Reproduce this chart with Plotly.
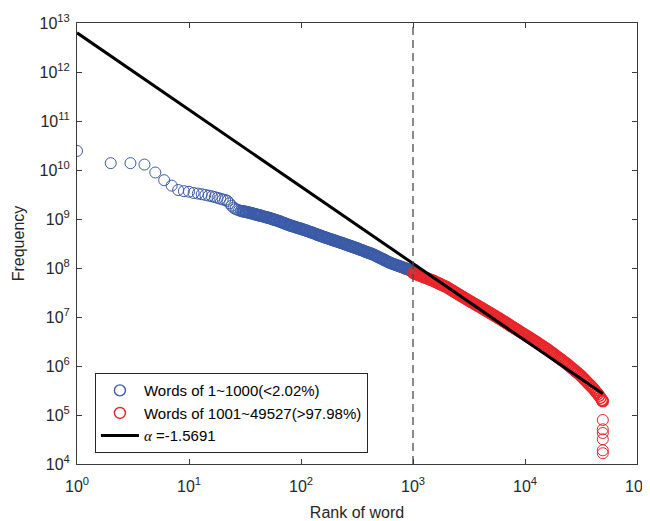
import plotly.graph_objects as go

# ---- data ----
# ranks 1..1000 (blue) and log10 of their frequencies
blue_rank = [1, 2, 3, 4, 5, 6, 7, 8, 9, 10, 11, 12, 13, 14, 15, 16, 17, 18, 19, 20,
             21, 22, 23, 24, 25, 26, 27, 28, 29,
             30, 31, 32, 33, 34, 35, 36, 37, 38, 39, 40, 41, 42, 43, 44, 46, 47, 49, 50,
             52, 53, 55, 56, 58, 59, 61, 63, 65, 66, 68, 70, 72, 74, 77, 79, 81, 83, 86,
             88, 91, 93, 96, 98, 101, 104, 107, 110, 113, 117, 120, 124, 127, 131, 135,
             139, 143, 147, 151, 155, 160, 165, 170, 174, 180, 185, 190, 196, 201, 207,
             213, 219, 226, 232, 239, 246, 253, 261, 268, 276, 284, 292, 301, 309, 319,
             328, 338, 347, 358, 368, 379, 389, 401, 412, 425, 437, 450, 463, 477, 490,
             505, 519, 535, 550, 567, 582, 600, 617, 636, 653, 673, 692, 713, 733, 755,
             776, 799, 822, 847, 871, 897, 922, 950, 977, 1000]
blue_log_freq = [10.389, 10.14, 10.14, 10.111, 9.949, 9.792, 9.681, 9.591, 9.568, 9.556,
                 9.531, 9.519, 9.505, 9.491, 9.477, 9.462, 9.447, 9.431, 9.415, 9.398,
                 9.389, 9.37, 9.32, 9.27, 9.23, 9.205, 9.19, 9.176, 9.167,
                 9.158, 9.152, 9.147, 9.140, 9.133, 9.126, 9.118, 9.111, 9.103, 9.097,
                 9.090, 9.083, 9.077, 9.071, 9.065, 9.053, 9.047, 9.036, 9.030, 9.018,
                 9.013, 9.001, 8.995, 8.984, 8.978, 8.968, 8.958, 8.947, 8.941, 8.930,
                 8.918, 8.908, 8.897, 8.882, 8.872, 8.864, 8.857, 8.846, 8.839, 8.829,
                 8.822, 8.813, 8.806, 8.797, 8.786, 8.777, 8.767, 8.758, 8.746, 8.737,
                 8.726, 8.717, 8.706, 8.695, 8.683, 8.673, 8.663, 8.653, 8.644, 8.632,
                 8.622, 8.612, 8.604, 8.593, 8.584, 8.575, 8.565, 8.556, 8.546, 8.537,
                 8.528, 8.517, 8.508, 8.498, 8.487, 8.478, 8.466, 8.458, 8.447, 8.438,
                 8.428, 8.417, 8.408, 8.397, 8.386, 8.375, 8.365, 8.353, 8.343, 8.332,
                 8.322, 8.311, 8.300, 8.289, 8.279, 8.267, 8.252, 8.238, 8.224, 8.210,
                 8.196, 8.182, 8.168, 8.152, 8.140, 8.125, 8.111, 8.098, 8.088, 8.078,
                 8.068, 8.058, 8.048, 8.038, 8.028, 8.017, 8.007, 7.995, 7.984, 7.973,
                 7.962, 7.950, 7.939, 7.930]

# ranks 1001..49527 (red) and log10 of their frequencies
red_rank = [1001, 1029, 1059, 1090, 1122, 1155, 1189, 1223, 1259, 1296, 1334, 1372, 1413,
            1454, 1496, 1540, 1585, 1631, 1679, 1728, 1778, 1830, 1884, 1939, 1995, 2054,
            2113, 2175, 2239, 2304, 2371, 2441, 2512, 2585, 2661, 2738, 2818, 2901, 2985,
            3072, 3162, 3255, 3350, 3447, 3548, 3652, 3758, 3868, 3981, 4097, 4217, 4340,
            4467, 4597, 4732, 4870, 5012, 5158, 5309, 5464, 5623, 5788, 5957, 6131, 6310,
            6494, 6683, 6879, 7079, 7286, 7499, 7718, 7943, 8175, 8414, 8660, 8913, 9173,
            9441, 9716, 10000, 10292, 10593, 10902, 11220, 11548, 11885, 12232, 12589,
            12957, 13335, 13725, 14125, 14538, 14962, 15399, 15849, 16312, 16788, 17278,
            17783, 18302, 18836, 19387, 19953, 20535, 21135, 21752, 22387, 23041, 23714,
            24406, 25119, 25852, 26607, 27384, 28184, 29007, 29854, 30726, 31623, 32546,
            33497, 34475, 35481, 36517, 37584, 38681, 39811, 40973, 42170, 43401, 44668,
            45973, 47315, 48697, 49200, 49500,
            49522, 49523, 49524, 49525, 49526, 49527]
red_log_freq = [7.900, 7.889, 7.878, 7.867, 7.856, 7.844, 7.833, 7.822, 7.811, 7.800,
                7.789, 7.778, 7.767, 7.756, 7.744, 7.732, 7.718, 7.704, 7.691, 7.677,
                7.664, 7.650, 7.637, 7.624, 7.610, 7.593, 7.575, 7.558, 7.541, 7.523,
                7.506, 7.488, 7.471, 7.454, 7.436, 7.419, 7.402, 7.384, 7.367, 7.350,
                7.333, 7.317, 7.300, 7.283, 7.267, 7.250, 7.233, 7.217, 7.200, 7.183,
                7.166, 7.149, 7.132, 7.115, 7.098, 7.081, 7.064, 7.047, 7.031, 7.014,
                6.997, 6.980, 6.963, 6.945, 6.926, 6.908, 6.890, 6.872, 6.853, 6.835,
                6.817, 6.798, 6.780, 6.762, 6.744, 6.726, 6.708, 6.690, 6.672, 6.654,
                6.636, 6.618, 6.600, 6.582, 6.564, 6.546, 6.528, 6.510, 6.491, 6.472,
                6.453, 6.434, 6.415, 6.396, 6.377, 6.359, 6.340, 6.319, 6.297, 6.276,
                6.255, 6.233, 6.212, 6.191, 6.169, 6.148, 6.127, 6.105, 6.084, 6.063,
                6.040, 6.016, 5.992, 5.968, 5.944, 5.920, 5.896, 5.872, 5.848, 5.824,
                5.800, 5.770, 5.741, 5.711, 5.682, 5.652, 5.623, 5.593, 5.564, 5.533,
                5.498, 5.463, 5.428, 5.391, 5.348, 5.305, 5.290, 5.280,
                4.898, 4.708, 4.633, 4.505, 4.279, 4.220]

blue_freq = [10 ** v for v in blue_log_freq]
red_freq = [10 ** v for v in red_log_freq]

# fitted power law  f = C * r^alpha
fit_alpha = -1.5691
fit_const = 6.3e12
fit_rank = [1, 49527]
fit_freq = [fit_const * r ** fit_alpha for r in fit_rank]

split_rank = 1000

x_tickvals = [1, 10, 100, 1000, 10000, 100000]
x_ticktext = ["10<sup>0</sup>", "10<sup>1</sup>", "10<sup>2</sup>", "10<sup>3</sup>",
              "10<sup>4</sup>", "10<sup>5</sup>"]
y_tickvals = [1e4, 1e5, 1e6, 1e7, 1e8, 1e9, 1e10, 1e11, 1e12, 1e13]
y_ticktext = ["10<sup>%d</sup>" % e for e in range(4, 14)]

names = ["Words of 1~1000(<2.02%)", "Words of 1001~49527(>97.98%)",
         "<span style=\"font-family:'Liberation Serif'\"><i>α</i></span> =-1.5691"]

BLUE = "#3B5BA7"
RED = "#E8262B"
FONT = "Liberation Sans, Arial, Helvetica, sans-serif"
AXC = "#3a3a3a"
TXT = "#262626"

# thin outlines where circles stand alone, slightly heavier where they pile up
blue_lw = [1.0 if r < 30 else 1.5 for r in blue_rank]
red_lw = [1.5 if r < 49520 else 1.0 for r in red_rank]

fig = go.Figure()
fig.add_trace(go.Scatter(x=blue_rank, y=blue_freq, mode="markers", name=names[0],
                         marker=dict(symbol="circle-open", size=11, color=BLUE,
                                     line=dict(width=blue_lw, color=BLUE))))
fig.add_trace(go.Scatter(x=red_rank, y=red_freq, mode="markers", name=names[1],
                         marker=dict(symbol="circle-open", size=11, color=RED,
                                     line=dict(width=red_lw, color=RED))))
fig.add_trace(go.Scatter(x=fit_rank, y=fit_freq, mode="lines", name=names[2],
                         line=dict(color="black", width=3)))
fig.add_trace(go.Scatter(x=[split_rank, split_rank], y=[y_tickvals[0], y_tickvals[-1]],
                         mode="lines", showlegend=False, hoverinfo="skip",
                         line=dict(color="#4a4a4a", width=1.3, dash="8px,5px")))

axis_common = dict(type="log", showgrid=False, zeroline=False, showline=True,
                   linecolor=AXC, linewidth=1, mirror="ticks", ticks="inside",
                   ticklen=5, tickcolor=AXC, tickwidth=1, automargin=False,
                   ticklabeloverflow="allow",
                   tickfont=dict(family=FONT, size=16, color=TXT))

# the page body has an 8px margin; the plot box is placed to sit at the
# reference's pixel position inside the 650x521 window
fig.update_layout(
    width=642, height=513,
    margin=dict(l=69, r=13, t=15, b=57),
    paper_bgcolor="white", plot_bgcolor="white",
    font=dict(family=FONT, color=TXT),
    xaxis=dict(range=[0, 5], tickmode="array", tickvals=x_tickvals, ticktext=x_ticktext,
               ticklabelstandoff=8,
               title=dict(text="Rank of word", font=dict(family=FONT, size=16, color=TXT),
                          standoff=12),
               **axis_common),
    yaxis=dict(range=[4, 13], tickmode="array", tickvals=y_tickvals, ticktext=y_ticktext,
               ticklabelstandoff=3,
               title=dict(text="Frequency", font=dict(family=FONT, size=16, color=TXT),
                          standoff=10),
               **axis_common),
    legend=dict(x=0.032, y=0.206, xanchor="left", yanchor="top",
                bgcolor="white", bordercolor=TXT, borderwidth=1,
                font=dict(family=FONT, size=15, color="black"),
                tracegroupgap=0, itemwidth=38),
    showlegend=True,
)

fig.write_html("out.html")
